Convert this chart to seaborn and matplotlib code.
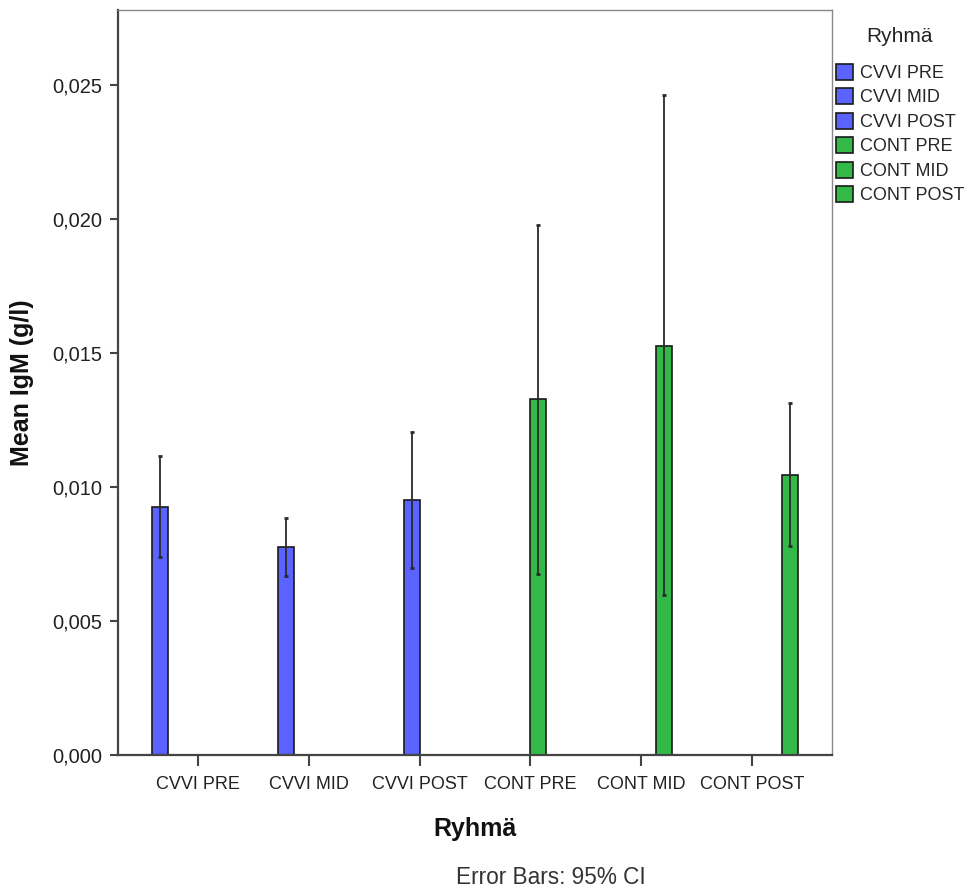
import matplotlib
matplotlib.use("Agg")
import matplotlib.pyplot as plt
import seaborn as sns
import pandas as pd

# ---- data ----
groups = ["CVVI PRE", "CVVI MID", "CVVI POST", "CONT PRE", "CONT MID", "CONT POST"]
means = [0.00927, 0.00778, 0.00953, 0.01327, 0.01528, 0.01046]
ci_low = [0.00737, 0.00669, 0.00696, 0.00676, 0.00598, 0.00781]
ci_high = [0.01115, 0.00883, 0.01206, 0.01977, 0.02463, 0.01312]
colors = ["#5A62FF", "#5A62FF", "#5A62FF", "#32B947", "#32B947", "#32B947"]
yticks = [0.0, 0.005, 0.010, 0.015, 0.020, 0.025]
ytick_labels = ["0,000", "0,005", "0,010", "0,015", "0,020", "0,025"]

sns.set_theme(style="white")
plt.rcParams["font.family"] = ["Liberation Sans", "DejaVu Sans"]

df = pd.DataFrame({"Ryhmä": groups, "mean": means})

fig = plt.figure(figsize=(9.68, 8.94), dpi=100)
ax = fig.add_axes([118 / 968, 1 - 755 / 894, (832 - 118) / 968, (755 - 10) / 894])

sns.barplot(data=df, x="Ryhmä", y="mean", hue="Ryhmä", order=groups, hue_order=groups,
            palette=dict(zip(groups, colors)), dodge=True, width=0.82, gap=0,
            errorbar=None, edgecolor="#1a1a1a", linewidth=1.2, saturation=1, ax=ax)

# error bars (95% CI) placed on the bar centres
for cont, m, lo, hi in zip(ax.containers, means, ci_low, ci_high):
    bar = cont.patches[0]
    xc = bar.get_x() + bar.get_width() / 2
    ax.errorbar([xc], [m], yerr=[[m - lo], [hi - m]], fmt="none", ecolor="#2a2a2a",
                elinewidth=1.3, capsize=1.3, capthick=2.0, zorder=5)

ax.set_xlim(-0.72, 5.72)
ax.set_ylim(0, 0.0278)
ax.set_yticks(yticks)
ax.set_yticklabels(ytick_labels)

ax.tick_params(axis="y", which="major", left=True, length=6, width=1.5, color="#444444",
               labelsize=14.5, labelcolor="#222222", pad=5)
ax.tick_params(axis="x", which="major", bottom=True, length=8, width=1.5, color="#444444",
               labelsize=13, labelcolor="#222222", pad=7)

for side in ["left", "bottom"]:
    ax.spines[side].set_color("#444444")
    ax.spines[side].set_linewidth(1.6)
for side in ["top", "right"]:
    ax.spines[side].set_color("#888888")
    ax.spines[side].set_linewidth(1.0)

ax.set_xlabel("Ryhmä", fontsize=18, fontweight="bold", color="#111111")
ax.xaxis.set_label_coords(0.5, -0.083)
ax.xaxis.label.set_va("top")
ax.set_ylabel("Mean IgM (g/l)", fontsize=18, fontweight="bold", color="#111111")
ax.yaxis.set_label_coords(-0.118, 0.5)

# legend outside on the right (square colour handles from the bar colours)
leg = ax.get_legend()
handles = [matplotlib.patches.Rectangle((0, 0), 1, 1, facecolor=c, edgecolor="#1a1a1a",
                                        linewidth=1.2) for c in colors]
if leg is not None:
    leg.remove()
fig.legend(handles, groups, loc="upper left",
           bbox_to_anchor=(836 / 968, 1 - 64 / 894), bbox_transform=fig.transFigure,
           frameon=False, fontsize=13, borderpad=0,
           borderaxespad=0, handlelength=0.95, handleheight=0.95, handletextpad=0.4,
           labelspacing=0.36)
fig.text(900 / 968, 1 - 37 / 894, "Ryhmä", ha="center", va="center",
         fontsize=15, color="#222222")

fig.text(551 / 968, 1 - 877 / 894, "Error Bars: 95% CI", ha="center", va="center",
         fontsize=16.3, color="#333333")

fig.savefig("out.png", dpi=100)
